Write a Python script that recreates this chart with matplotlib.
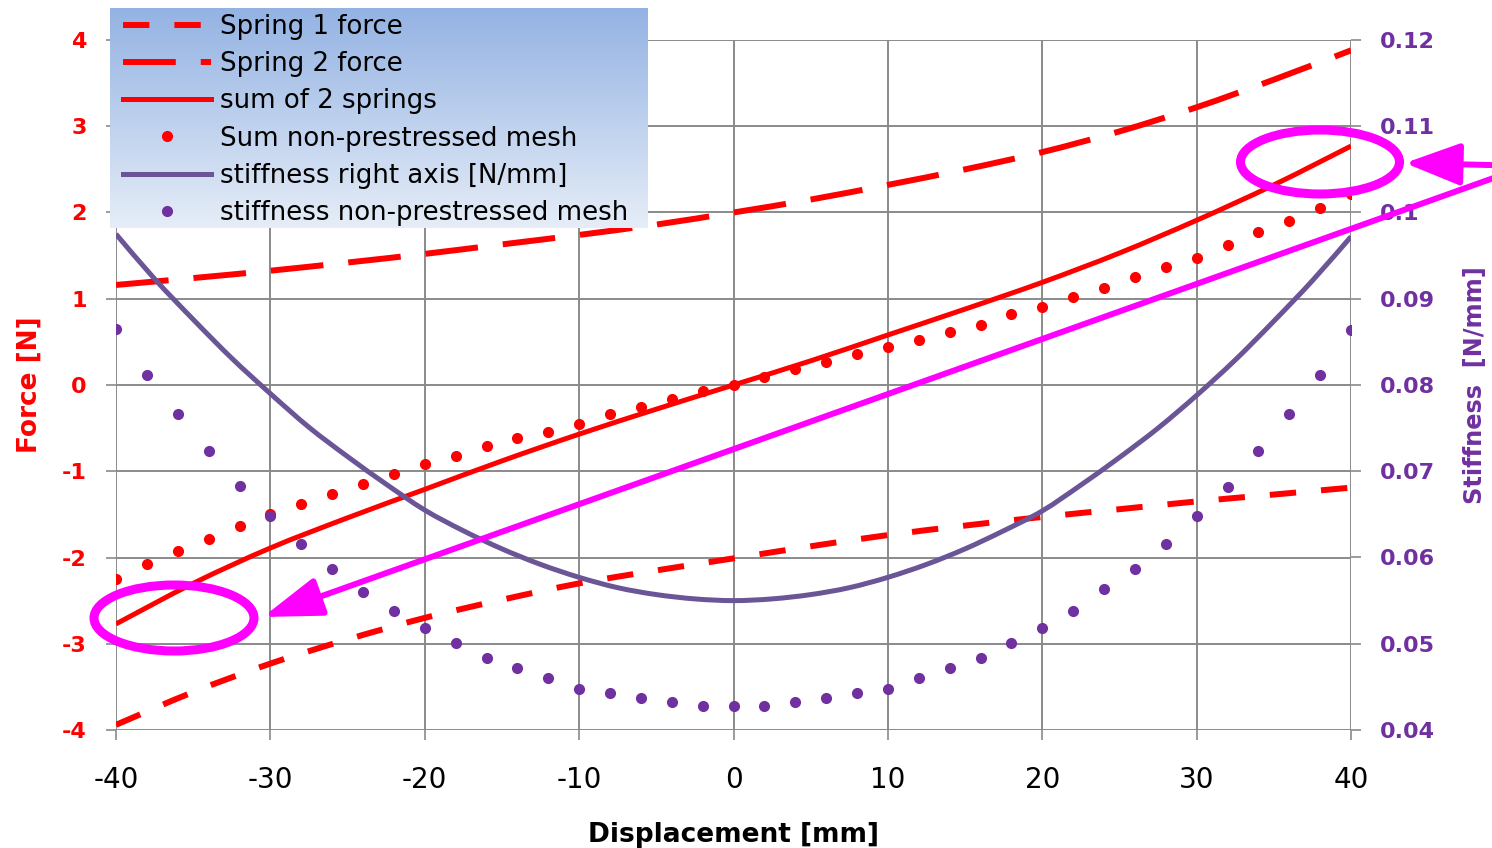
import numpy as np
import matplotlib
matplotlib.use("Agg")
import matplotlib.pyplot as plt
from matplotlib.patches import Ellipse, FancyArrowPatch, PathPatch
from matplotlib.path import Path
from matplotlib.lines import Line2D

# ---------------- data ----------------
x_line = [-40, -35, -30, -25, -20, -15, -10, -5, 0, 5, 10, 15, 20, 25, 30, 35, 40]
spring1_force = [-3.94, -3.56, -3.23, -2.95, -2.70, -2.49, -2.30, -2.15, -2.01,
                 -1.87, -1.74, -1.63, -1.53, -1.44, -1.35, -1.27, -1.19]
spring2_force = [1.16, 1.24, 1.325, 1.42, 1.52, 1.63, 1.74, 1.86, 2.00,
                 2.15, 2.32, 2.50, 2.70, 2.94, 3.22, 3.54, 3.88]
sum_springs = [-2.77, -2.30, -1.89, -1.54, -1.21, -0.88, -0.57, -0.28, 0.0,
               0.28, 0.58, 0.88, 1.19, 1.53, 1.91, 2.32, 2.77]

x_stiff = [-40, -37.5, -35, -32.5, -30, -27.5, -25, -22.5, -20, -17.5, -15, -12.5, -10,
           -7.5, -5, -2.5, 0, 2.5, 5, 7.5, 10, 12.5, 15, 17.5, 20, 22.5, 25, 27.5,
           30, 32.5, 35, 37.5, 40]
stiffness = [0.0975, 0.0923, 0.0876, 0.0831, 0.0790, 0.0751, 0.0717, 0.0685, 0.0655,
             0.0631, 0.0610, 0.0592, 0.0577, 0.0565, 0.0557, 0.0552, 0.0550, 0.0552,
             0.0557, 0.0565, 0.0577, 0.0592, 0.0610, 0.0631, 0.0654, 0.0684, 0.0716,
             0.0750, 0.0788, 0.0829, 0.0874, 0.0921, 0.0972]

x_mesh = list(range(-40, 41, 2))
sum_mesh = [-2.25, -2.075, -1.925, -1.785, -1.64, -1.49, -1.38, -1.26, -1.15, -1.03,
            -0.916, -0.82, -0.71, -0.62, -0.54, -0.45, -0.336, -0.25, -0.16, -0.066,
            0.0, 0.097, 0.18, 0.27, 0.36, 0.437, 0.52, 0.615, 0.70, 0.82,
            0.908, 1.024, 1.13, 1.25, 1.365, 1.47, 1.62, 1.77, 1.905, 2.05, 2.22]
stiff_mesh = [0.0865, 0.0812, 0.0766, 0.0723, 0.0683, 0.0648, 0.0616, 0.0587, 0.0560,
              0.0538, 0.0518, 0.0501, 0.0483, 0.0472, 0.0460, 0.0448, 0.0443, 0.0437,
              0.0432, 0.0428, 0.0428, 0.0428, 0.0432, 0.0437, 0.0443, 0.0448, 0.0460,
              0.0472, 0.0483, 0.0501, 0.0518, 0.0538, 0.0564, 0.0587, 0.0616, 0.0648,
              0.0682, 0.0723, 0.0766, 0.0812, 0.0864]

x_ticks = [-40, -30, -20, -10, 0, 10, 20, 30, 40]
force_ticks = [-4, -3, -2, -1, 0, 1, 2, 3, 4]
stiff_ticks = [0.04, 0.05, 0.06, 0.07, 0.08, 0.09, 0.10, 0.11, 0.12]
stiff_ticklabels = ["0.04", "0.05", "0.06", "0.07", "0.08", "0.09", "0.1", "0.11", "0.12"]

labels = ["Spring 1 force", "Spring 2 force", "sum of 2 springs",
          "Sum non-prestressed mesh", "stiffness right axis [N/mm]",
          "stiffness non-prestressed mesh"]

# ---------------- style ----------------
plt.rcParams['font.family'] = ['DejaVu Sans']
plt.rcParams['lines.scale_dashes'] = False
plt.rcParams['axes.unicode_minus'] = False
RED = '#ff0000'
PURPLE_TXT = '#7030a0'
PURPLE_LINE = '#6a5596'
PURPLE_DOT = '#7030a0'
GRID = '#8a8a8a'
MAG = '#ff00ff'


def smooth_path(xs, ys):
    """Smoothed (Excel-like) line through the data points, as cubic Bezier segments."""
    p = np.column_stack([xs, ys]).astype(float)
    n = len(p)
    verts = [p[0]]
    codes = [Path.MOVETO]
    for i in range(n - 1):
        p0 = p[i - 1] if i > 0 else p[i]
        p1 = p[i]
        p2 = p[i + 1]
        p3 = p[i + 2] if i + 2 < n else p[i + 1]
        c1 = p1 + (p2 - p0) / 6.0
        c2 = p2 - (p3 - p1) / 6.0
        verts += [c1, c2, p2]
        codes += [Path.CURVE4] * 3
    return Path(verts, codes)


W, H = 1492, 848
fig = plt.figure(figsize=(W / 100, H / 100), dpi=100)
ax = fig.add_axes([116 / W, 1 - 730 / H, (1351 - 116) / W, (730 - 40) / H])
ax2 = ax.twinx()

ax.add_patch(PathPatch(smooth_path(x_line, spring1_force), fill=False, edgecolor=RED,
                       lw=4.3, linestyle=(0, (19, 18)), capstyle='butt', zorder=3))
ax.add_patch(PathPatch(smooth_path(x_line, spring2_force), fill=False, edgecolor=RED,
                       lw=4.3, linestyle=(0, (38, 18)), capstyle='butt', zorder=3))
ax.add_patch(PathPatch(smooth_path(x_line, sum_springs), fill=False, edgecolor=RED,
                       lw=3.6, zorder=3))
ax.plot(x_mesh, sum_mesh, linestyle='none', marker='o', ms=7, color=RED, zorder=3)
ax2.add_patch(PathPatch(smooth_path(x_stiff, stiffness), fill=False,
                        edgecolor=PURPLE_LINE, lw=3.6, zorder=3))
ax2.plot(x_mesh, stiff_mesh, linestyle='none', marker='o', ms=7, color=PURPLE_DOT,
         zorder=3)

h1 = Line2D([], [], color=RED, lw=4.3, dashes=(19, 18), dash_capstyle='butt')
h2 = Line2D([], [], color=RED, lw=4.3, dashes=(38, 18), dash_capstyle='butt')
h3 = Line2D([], [], color=RED, lw=3.6)
h4 = Line2D([], [], linestyle='none', marker='o', ms=7, color=RED)
h5 = Line2D([], [], color=PURPLE_LINE, lw=3.6)
h6 = Line2D([], [], linestyle='none', marker='o', ms=7, color=PURPLE_DOT)

ax.set_xlim(-40, 40)
ax.set_ylim(-4, 4)
ax2.set_ylim(0.04, 0.12)
ax.set_xticks(x_ticks)
ax.set_yticks(force_ticks)
ax2.set_yticks(stiff_ticks)
ax2.set_yticklabels(stiff_ticklabels)

ax.grid(True, color=GRID, lw=1.4)
ax.set_axisbelow(True)
for a in (ax, ax2):
    for s in a.spines.values():
        s.set_visible(False)

ax.tick_params(axis='x', length=7, width=1.2, color=GRID, pad=19,
               labelsize=20, labelcolor='black')
ax.tick_params(axis='y', length=7, width=1.2, color=GRID, pad=14,
               labelsize=16, labelcolor=RED)
for t in ax.get_yticklabels():
    t.set_fontweight('bold')
ax2.tick_params(axis='y', length=7, width=1.2, color=GRID, pad=14,
                labelsize=16, labelcolor=PURPLE_TXT)
for t in ax2.get_yticklabels():
    t.set_fontweight('bold')

ax.set_xlabel("Displacement [mm]", fontsize=19, fontweight='bold', labelpad=20)
ax.set_ylabel("Force [N]", fontsize=19, fontweight='bold', color=RED, labelpad=14)
ax2.set_ylabel("Stiffness  [N/mm]", fontsize=17.3, fontweight='bold',
               color=PURPLE_TXT, labelpad=20)

# ---------------- legend with gradient background ----------------
lax = fig.add_axes([110 / W, 1 - 228 / H, (648 - 110) / W, (228 - 8) / H])
lax.set_zorder(5)
top = np.array([0.58, 0.70, 0.89])
bot = np.array([0.90, 0.93, 0.97])
grad = np.linspace(0, 1, 256)[:, None, None]
img = top * (1 - grad) + bot * grad
lax.imshow(img, aspect='auto', extent=(0, 1, 0, 1), origin='upper')
lax.set_xlim(0, 1)
lax.set_ylim(0, 1)
lax.axis('off')
leg = fig.legend([h1, h2, h3, h4, h5, h6], labels, loc='upper left',
                 bbox_to_anchor=(123 / W, 1 - 14 / H), frameon=False, fontsize=18.7,
                 handlelength=3.4, handletextpad=0.35, labelspacing=0.43,
                 borderpad=0, borderaxespad=0)
leg.set_zorder(6)

# ---------------- magenta annotations ----------------
def fx(px):
    return px / W

def fy(py):
    return 1 - py / H

e1 = Ellipse((fx(1320), fy(162)), 159 / W, 64 / H, transform=fig.transFigure,
             fill=False, edgecolor=MAG, lw=6.5, zorder=10)
e2 = Ellipse((fx(174), fy(618)), 160 / W, 66 / H, transform=fig.transFigure,
             fill=False, edgecolor=MAG, lw=6.5, zorder=10)
fig.add_artist(e1)
fig.add_artist(e2)

a1 = FancyArrowPatch((fx(1530), fy(166)), (fx(1405), fy(163)),
                     transform=fig.transFigure, arrowstyle='-|>,head_length=34,head_width=13',
                     color=MAG, lw=4.3, shrinkA=0, shrinkB=0, zorder=10)
a2 = FancyArrowPatch((fx(1530), fy(165)), (fx(263), fy(617)),
                     transform=fig.transFigure, arrowstyle='-|>,head_length=36,head_width=12',
                     color=MAG, lw=4.3, shrinkA=0, shrinkB=0, zorder=10)
fig.add_artist(a1)
fig.add_artist(a2)

fig.savefig("out.png", dpi=100)
